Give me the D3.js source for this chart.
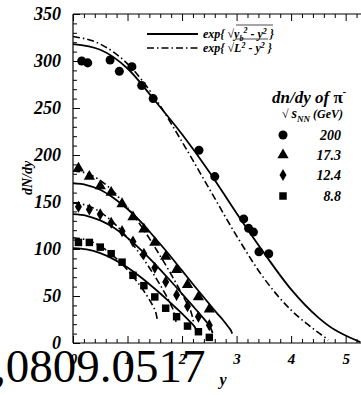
<!DOCTYPE html>
<html><head><meta charset="utf-8">
<script src="https://cdnjs.cloudflare.com/ajax/libs/d3/7.8.5/d3.min.js"></script>
<style>
html,body{margin:0;padding:0;background:#fff;}
svg{display:block;}
text{font-family:"Liberation Serif","Times New Roman",serif;}
</style></head>
<body><svg id="c" width="361" height="395"></svg>
<script>
// ---- data ----
const energies = ["200", "17.3", "12.4", "8.8"];
const symbols = ["circle", "triangle", "diamond", "square"];
// measured dN/dy points [rapidity, dN/dy]
const pts200 = [[0.16,300],[0.27,298],[0.68,301],[0.85,289],[1.08,294],[1.26,274],[1.47,260],[2.31,205],[2.6,177],[3.13,132],[3.22,122],[3.31,118],[3.41,97],[3.59,95]];
const pts173 = [[0.1,186],[0.3,177],[0.5,167],[0.7,160],[0.9,148],[1.1,134],[1.3,121],[1.5,107],[1.7,92],[1.9,78],[2.1,62],[2.3,49],[2.5,36]];
const pts124 = [[0.1,145],[0.3,142],[0.5,137],[0.7,128],[0.9,119],[1.1,108],[1.3,95],[1.5,80],[1.7,65],[1.9,51],[2.1,39],[2.3,28],[2.5,19]];
const pts88  = [[0.1,107],[0.3,107],[0.5,102],[0.7,95],[0.9,86],[1.1,72],[1.3,61],[1.5,49],[1.7,37],[1.9,28],[2.1,18],[2.3,12],[2.5,6]];
// fitted curves: solid = exp{sqrt(yb^2-y^2)}, dash-dot = exp{sqrt(L^2-y^2)}
const solid200 = [[0,318],[0.5,312],[1,292],[1.5,258],[2,222],[2.5,182],[3,138],[3.5,96],[4,57],[4.5,27],[4.8,14],[5,8],[5.15,4],[5.27,1]];
const dd200    = [[0,326],[0.5,318],[1,297],[1.5,261],[2,214],[2.5,164],[3,114],[3.5,69],[4,35],[4.3,20],[4.5,11],[4.62,6],[4.68,3]];
const solid173 = [[0,170],[0.25,168],[0.5,163],[0.75,154],[1,142.5],[1.25,128.5],[1.5,112],[1.75,95],[2,77],[2.25,59],[2.5,41.5],[2.65,31],[2.75,24.5],[2.85,17],[2.9,13],[2.92,10]];
const dd173    = [[0,183],[0.25,180.5],[0.5,173],[0.75,160.5],[1,144],[1.25,124.5],[1.5,102],[1.75,78],[1.9,62.7],[2,52],[2.1,41],[2.17,32],[2.22,20]];
const solid124 = [[0,137],[0.25,135.3],[0.5,130.4],[0.75,122.5],[1,111.8],[1.25,98.9],[1.5,84.3],[1.75,68.6],[2,52.3],[2.2,39.2],[2.35,29.2],[2.45,22.3],[2.52,16.6],[2.56,10.6]];
const dd124    = [[0,149],[0.25,146.5],[0.5,139.3],[0.75,127.6],[1,111.9],[1.25,92.9],[1.4,80.1],[1.55,66.4],[1.7,51.4],[1.8,40.1],[1.85,33.1],[1.89,22.5]];
const solid88  = [[0,101],[0.25,99.6],[0.5,95.6],[0.75,89],[1,80.3],[1.25,69.7],[1.5,57.7],[1.75,44.8],[1.9,36.7],[2.05,28.4],[2.15,22.5],[2.23,17.2],[2.29,10.2]];
const dd88     = [[0,112],[0.25,109.7],[0.5,103.1],[0.75,92.3],[0.9,84],[1.05,74.3],[1.2,63.4],[1.3,55.3],[1.4,46.2],[1.47,38.9],[1.52,32.2],[1.55,23.7]];
const xMajor = [0,1,2,3,4,5];
const yMajor = [0,50,100,150,200,250,300,350];

// ---- drawing ----
const svg = d3.select("#c");
const x = d3.scaleLinear().domain([0,5.3]).range([73,362]);
const y = d3.scaleLinear().domain([0,350]).range([343,14]);

const g = svg.append("g");

// frame lines
g.append("line").attr("x1",73).attr("x2",73).attr("y1",y(350)).attr("y2",y(0)).attr("stroke","#000").attr("stroke-width",1.2);
g.append("line").attr("x1",73).attr("x2",361).attr("y1",y(0)).attr("y2",y(0)).attr("stroke","#000").attr("stroke-width",1.2);
g.append("line").attr("x1",73).attr("x2",361).attr("y1",y(350)).attr("y2",y(350)).attr("stroke","#000").attr("stroke-width",1.2);

// axes
const xMinor = d3.range(0,5.31,0.2).filter(v=>Math.abs(v-Math.round(v))>1e-6);
const yMinor = d3.range(0,351,10).filter(v=>v%50!==0);
function styleAxis(sel){ sel.select(".domain").remove(); sel.selectAll("line").attr("stroke","#000").attr("stroke-width",1); }
const axB = g.append("g").attr("transform",`translate(0,${y(0)})`).call(d3.axisBottom(x).tickValues(xMajor).tickSize(-7).tickPadding(7).tickFormat(d3.format("d")));
styleAxis(axB); axB.selectAll("text").attr("font-size",15).attr("font-style","italic").attr("font-weight","bold").attr("font-family","Liberation Serif, serif").attr("fill","#000").attr("dy","0.9em");
const axBm = g.append("g").attr("transform",`translate(0,${y(0)})`).call(d3.axisBottom(x).tickValues(xMinor).tickSize(-4).tickFormat(""));
styleAxis(axBm);
const axT = g.append("g").attr("transform",`translate(0,${y(350)})`).call(d3.axisTop(x).tickValues(xMajor).tickSize(-7).tickFormat(""));
styleAxis(axT);
const axTm = g.append("g").attr("transform",`translate(0,${y(350)})`).call(d3.axisTop(x).tickValues(xMinor).tickSize(-4).tickFormat(""));
styleAxis(axTm);
const axL = g.append("g").attr("transform","translate(73,0)").call(d3.axisLeft(y).tickValues(yMajor).tickSize(-7).tickPadding(12).tickFormat(d3.format("d")));
styleAxis(axL); axL.selectAll("text").attr("font-size",18).attr("font-style","italic").attr("font-weight","bold").attr("font-family","Liberation Serif, serif").attr("fill","#000");
const axLm = g.append("g").attr("transform","translate(73,0)").call(d3.axisLeft(y).tickValues(yMinor).tickSize(-4).tickFormat(""));
styleAxis(axLm);

// axis titles
svg.append("text").attr("x",223).attr("y",385).attr("text-anchor","middle").attr("font-size",16).attr("font-style","italic").attr("font-weight","bold").text("y");
svg.append("text").attr("transform","translate(32,178) rotate(-90)").attr("text-anchor","middle").attr("font-size",14).attr("font-style","italic").attr("font-weight","bold").text("dN/dy");

// curves
const line = d3.line().x(d=>x(d[0])).y(d=>y(d[1])).curve(d3.curveMonotoneX);
const dashPat = "7,3,1.5,3";
[[solid200,false],[dd200,true],[solid173,false],[dd173,true],[solid124,false],[dd124,true],[solid88,false],[dd88,true]].forEach(([data,dd])=>{
  g.append("path").datum(data).attr("d",line).attr("fill","none").attr("stroke","#000")
    .attr("stroke-width",dd?1.6:1.8).attr("stroke-dasharray",dd?dashPat:null);
});

// markers
const symMap = {circle:d3.symbolCircle, triangle:d3.symbolTriangle, diamond:d3.symbolDiamond, square:d3.symbolSquare};
const symSize = {circle:64, triangle:55, diamond:42, square:56};
function drawMarkers(data, sym){
  g.selectAll(null).data(data).enter().append("path")
    .attr("d", d3.symbol().type(symMap[sym]).size(symSize[sym]))
    .attr("transform", d=>`translate(${x(d[0])},${y(d[1])})`)
    .attr("fill","#000");
}
drawMarkers(pts200,"circle"); drawMarkers(pts173,"triangle"); drawMarkers(pts124,"diamond"); drawMarkers(pts88,"square");

// line legend
const lg = svg.append("g");
lg.append("line").attr("x1",147).attr("x2",198).attr("y1",34).attr("y2",34).attr("stroke","#000").attr("stroke-width",1.8);
lg.append("line").attr("x1",147).attr("x2",198).attr("y1",48).attr("y2",48).attr("stroke","#000").attr("stroke-width",1.6).attr("stroke-dasharray",dashPat);
function expLabel(yy, parts){
  const t = lg.append("text").attr("x",203).attr("y",yy+4).attr("font-size",12).attr("font-style","italic").attr("font-weight","bold");
  t.append("tspan").text("exp{ ");
  t.append("tspan").attr("font-style","normal").attr("font-weight","normal").text("\u221A");
  parts.forEach(p=>{ const s=t.append("tspan").text(p.t); if(p.dy) s.attr("dy",p.dy); if(p.fs) s.attr("font-size",p.fs); });
  return t;
}
expLabel(34,[{t:"y"},{t:"b",dy:3,fs:8},{t:"2",dy:-8,fs:8},{t:" - y",dy:5},{t:"2",dy:-4,fs:8},{t:" }",dy:4}]);
expLabel(48,[{t:"L"},{t:"2",dy:-4,fs:8},{t:" - y",dy:4},{t:"2",dy:-4,fs:8},{t:" }",dy:4}]);
lg.append("line").attr("x1",236).attr("x2",273).attr("y1",25).attr("y2",25).attr("stroke","#000").attr("stroke-width",0.7);
lg.append("line").attr("x1",236).attr("x2",268).attr("y1",39).attr("y2",39).attr("stroke","#000").attr("stroke-width",0.7);

// marker legend
const ml = svg.append("g");
const title = ml.append("text").attr("x",272).attr("y",103).attr("font-size",17).attr("font-style","italic").attr("font-weight","bold");
title.append("tspan").text("dn/dy of ");
title.append("tspan").attr("font-style","normal").text("\u03C0");
title.append("tspan").attr("dy",-8).attr("font-size",10).text("-");
const sub = ml.append("text").attr("x",282).attr("y",118).attr("font-size",12).attr("font-style","italic");
sub.append("tspan").attr("font-style","normal").text("\u221A ");
sub.append("tspan").attr("font-weight","bold").attr("font-size",14).text("s");
sub.append("tspan").attr("dy",4).attr("font-size",9).attr("font-weight","bold").text("NN");
sub.append("tspan").attr("dy",-4).attr("font-weight","bold").text(" (GeV)");
const rowsY = [135,155,175,196];
energies.forEach((e,i)=>{
  ml.append("path").attr("d", d3.symbol().type(symMap[symbols[i]]).size(symSize[symbols[i]])).attr("transform",`translate(283,${rowsY[i]})`).attr("fill","#000");
  ml.append("text").attr("x",341).attr("y",rowsY[i]+5).attr("text-anchor","end").attr("font-size",14).attr("font-style","italic").attr("font-weight","bold").text(e);
});

// overlaid identifier text (as in the reference)
svg.append("text").attr("x",-6).attr("y",382).attr("font-size",47).attr("font-family","Liberation Serif, serif").attr("fill","#000").text(",0809.0517");
</script></body></html>
